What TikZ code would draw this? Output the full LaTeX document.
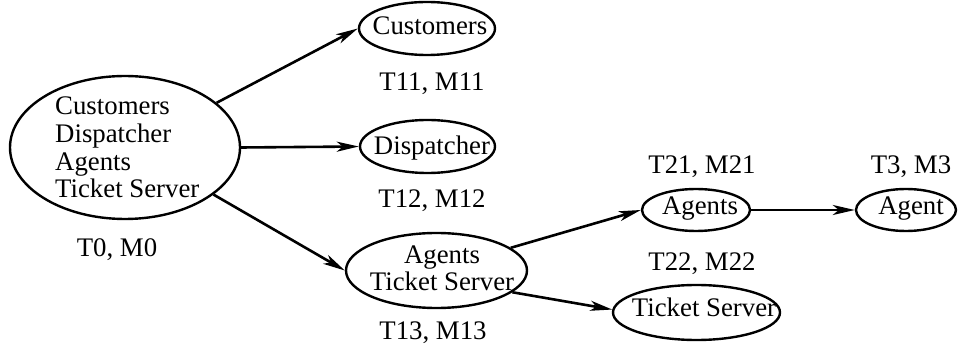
\documentclass[tikz,border=0pt]{standalone}
\usepackage{fontspec}
\setmainfont{Liberation Serif}
\usetikzlibrary{shapes.geometric,arrows.meta}
\begin{document}
\begin{tikzpicture}[x=1pt,y=-1pt,
  every node/.style={font=\fontsize{26.8}{27.7}\selectfont},
  proc/.style={ellipse,draw,line width=2.4pt,inner sep=0pt},
  txt/.style={inner sep=0pt,anchor=base},
  flow/.style={line width=2.6pt,-{Stealth[length=22pt,width=10pt,inset=6pt]}}]
\useasboundingbox (0,0) rectangle (958,352);
% task ellipses
\node[proc,minimum width=230pt,minimum height=143pt] (all) at (125,147.5) {};
\node[proc,minimum width=136pt,minimum height=53pt] (cust) at (427,28.5) {};
\node[proc,minimum width=135pt,minimum height=53pt] (disp) at (427.5,146.5) {};
\node[proc,minimum width=181pt,minimum height=75pt] (ats) at (436.5,270.5) {};
\node[proc,minimum width=108pt,minimum height=42pt] (ag) at (696,210) {};
\node[proc,minimum width=100pt,minimum height=42pt] (one) at (906,210) {};
\node[proc,minimum width=167pt,minimum height=55pt] (ts) at (696.5,312.5) {};
% task contents (base anchor of a multi-line node sits on its last line)
\node[txt,anchor=base west,align=left] (all-t) at (55,198)
  {Customers\\Dispatcher\\Agents\\Ticket Server};
\node[txt] (cust-t) at (430,35) {Customers};
\node[txt] (disp-t) at (432,155) {Dispatcher};
\node[txt,align=center] (ats-t) at (442,291) {Agents\\Ticket Server};
\node[txt] (ag-t) at (700,215) {Agents};
\node[txt] (one-t) at (911,215) {Agent};
\node[txt] (ts-t) at (704,317) {Ticket Server};
% labels
\node[txt] (l0) at (117,257) {T0, M0};
\node[txt] (l11) at (432,91) {T11, M11};
\node[txt] (l12) at (432,208) {T12, M12};
\node[txt] (l13) at (433,340) {T13, M13};
\node[txt] (l21) at (702,174) {T21, M21};
\node[txt] (l22) at (702,271) {T22, M22};
\node[txt] (l3) at (911,174) {T3, M3};
% connectors
\draw[flow] (all.26) -- (cust.west);
\draw[flow] (all.east) -- (disp.west);
\draw[flow] (all.-28) -- (ats.west);
\draw[flow] (ats.17) -- (ag.west);
\draw[flow] (ats.-16) -- (ts.178);
\draw[flow] (ag.east) -- (one.west);
\end{tikzpicture}
\end{document}
